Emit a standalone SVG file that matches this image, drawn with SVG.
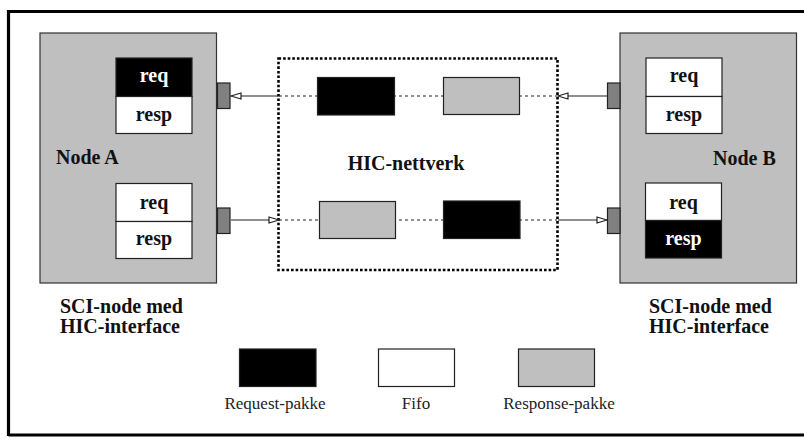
<svg xmlns="http://www.w3.org/2000/svg" width="804" height="441" viewBox="0 0 804 441">
<defs>
<style>
.node{fill:#bfbfbf;stroke:#333;stroke-width:1.2}
.fifo{fill:#fff;stroke:#222;stroke-width:1.2}
.blk{fill:#000;stroke:#222;stroke-width:1.2}
.gry{fill:#bfbfbf;stroke:#222;stroke-width:1.2}
.port{fill:#808080;stroke:#222;stroke-width:1.2}
.b{font-family:"Liberation Serif","Times New Roman",serif;font-weight:bold;font-size:20px;fill:#111}
.bw{font-family:"Liberation Serif","Times New Roman",serif;font-weight:bold;font-size:20px;fill:#fff}
.r{font-family:"Liberation Serif","Times New Roman",serif;font-size:17px;fill:#222}
.ln{stroke:#222;stroke-width:1.2;fill:none}
.dl{stroke:#222;stroke-width:1.2;fill:none;stroke-dasharray:3 3}
</style>
<marker id="ah" markerWidth="12" markerHeight="8" refX="11" refY="4" orient="auto" markerUnits="userSpaceOnUse">
<path d="M1,1 L11,4 L1,7 z" fill="#fff" stroke="#222" stroke-width="1.2"/>
</marker>
</defs>
<rect width="804" height="441" fill="#fff"/>
<g id="frame" fill="none" stroke="#000" stroke-width="3.2">
<path d="M8.5,436 L8.5,11.5 L804,11.5"/>
<path d="M8.5,435 L804,435"/>
</g>
<g id="hic">
<rect x="278.5" y="58.5" width="279" height="211.5" fill="none" stroke="#000" stroke-width="2.6" stroke-dasharray="2.6 2"/>
<text class="b" x="406" y="170" text-anchor="middle">HIC-nettverk</text>
</g>
<g id="nodeA">
<rect class="node" x="40" y="33" width="176.5" height="250"/>
<rect class="blk" x="116" y="58" width="76" height="38.5"/>
<rect class="fifo" x="116" y="96.5" width="76" height="37"/>
<text class="bw" x="154" y="82" text-anchor="middle">req</text>
<text class="b" x="154" y="120.5" text-anchor="middle">resp</text>
<rect class="fifo" x="116" y="183.5" width="76" height="38"/>
<rect class="fifo" x="116" y="221.5" width="76" height="37"/>
<text class="b" x="154" y="209" text-anchor="middle">req</text>
<text class="b" x="154" y="245" text-anchor="middle">resp</text>
<text class="b" x="56" y="164">Node A</text>
<rect class="port" x="217.5" y="83" width="12.5" height="25.5"/>
<rect class="port" x="217.5" y="208" width="12.5" height="25.5"/>
</g>
<g id="nodeB">
<rect class="node" x="620" y="33" width="176.5" height="250"/>
<rect class="fifo" x="646" y="58" width="76" height="38.5"/>
<rect class="fifo" x="646" y="96.5" width="76" height="37"/>
<text class="b" x="684" y="82" text-anchor="middle">req</text>
<text class="b" x="684" y="120.5" text-anchor="middle">resp</text>
<rect class="fifo" x="645.5" y="183" width="76" height="37.5"/>
<rect class="blk" x="645.5" y="220.5" width="76" height="37.5"/>
<text class="b" x="683.5" y="209" text-anchor="middle">req</text>
<text class="bw" x="683.5" y="245" text-anchor="middle">resp</text>
<text class="b" x="713" y="165">Node B</text>
<rect class="port" x="607.5" y="83" width="12.5" height="25.5"/>
<rect class="port" x="607.5" y="208" width="12.5" height="25.5"/>
</g>
<g id="connectors">
<line class="ln" x1="278" y1="96" x2="231" y2="96" marker-end="url(#ah)"/>
<line class="dl" x1="279" y1="96" x2="557" y2="96"/>
<line class="ln" x1="607" y1="96" x2="558" y2="96" marker-end="url(#ah)"/>
<line class="ln" x1="231" y1="220" x2="279" y2="220" marker-end="url(#ah)"/>
<line class="dl" x1="279" y1="220" x2="557" y2="220"/>
<line class="ln" x1="558" y1="220" x2="607" y2="220" marker-end="url(#ah)"/>
</g>
<g id="packets">
<rect class="blk" x="317.5" y="77.5" width="77" height="37.5"/>
<rect class="gry" x="443.5" y="77.5" width="76" height="37"/>
<rect class="gry" x="319.5" y="201.5" width="76" height="37"/>
<rect class="blk" x="443.5" y="201" width="76.5" height="37.5"/>
</g>
<g id="labels">
<text class="b" x="60" y="313">SCI-node med</text>
<text class="b" x="60" y="333">HIC-interface</text>
<text class="b" x="649" y="313">SCI-node med</text>
<text class="b" x="649" y="333">HIC-interface</text>
</g>
<g id="legend">
<rect class="blk" x="239.5" y="349" width="76.5" height="37.5"/>
<text class="r" x="275" y="409" text-anchor="middle">Request-pakke</text>
<rect class="fifo" x="378.5" y="349" width="76" height="37.5"/>
<text class="r" x="416" y="409" text-anchor="middle">Fifo</text>
<rect class="gry" x="518.5" y="349" width="76" height="37.5"/>
<text class="r" x="559" y="409" text-anchor="middle">Response-pakke</text>
</g>
</svg>
